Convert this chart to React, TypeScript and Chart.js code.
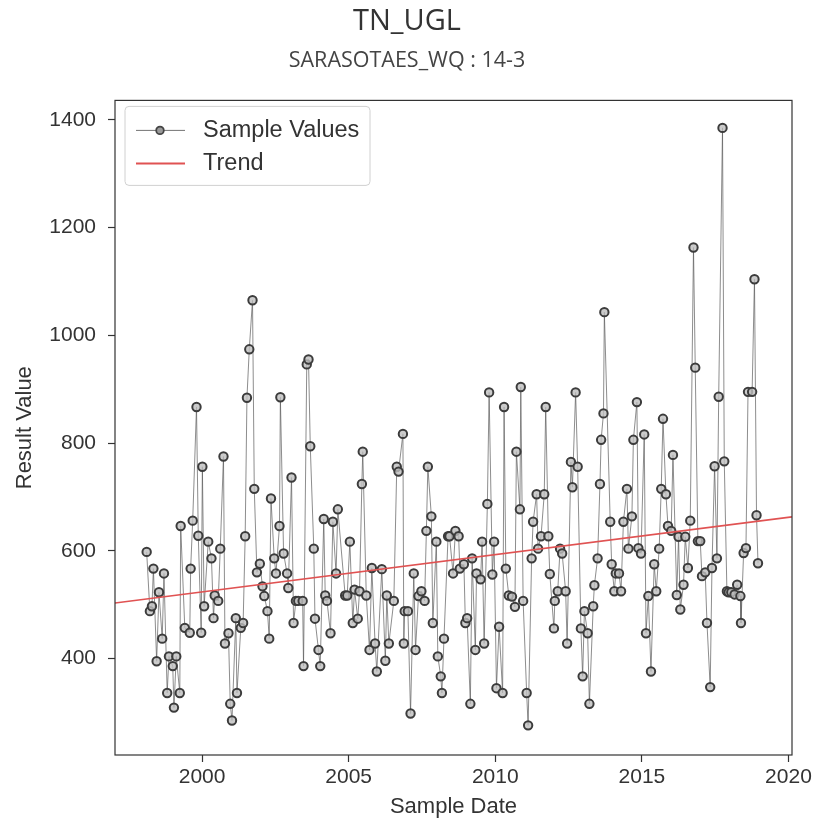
import React, { useEffect, useRef } from "react";
import { Chart, registerables } from "chart.js";
Chart.register(...registerables);

const sampleYears = [
  1998.11, 1998.22, 1998.29, 1998.34, 1998.45, 1998.53, 1998.64, 1998.70, 1998.81, 1998.87,
  1999.00, 1999.04, 1999.12, 1999.24, 1999.27, 1999.41, 1999.58, 1999.61, 1999.68, 1999.81,
  1999.87, 1999.97, 2000.01, 2000.07, 2000.21, 2000.32, 2000.39, 2000.43, 2000.55, 2000.62,
  2000.73, 2000.78, 2000.90, 2000.96, 2001.02, 2001.15, 2001.19, 2001.32, 2001.40, 2001.47,
  2001.53, 2001.61, 2001.72, 2001.78, 2001.87, 2001.97, 2002.06, 2002.12, 2002.23, 2002.29,
  2002.35, 2002.46, 2002.52, 2002.64, 2002.67, 2002.78, 2002.90, 2002.94, 2003.05, 2003.12,
  2003.20, 2003.28, 2003.43, 2003.46, 2003.57, 2003.63, 2003.69, 2003.81, 2003.85, 2003.97,
  2004.03, 2004.15, 2004.20, 2004.26, 2004.38, 2004.46, 2004.57, 2004.63, 2004.88, 2004.95,
  2005.04, 2005.14, 2005.20, 2005.31, 2005.37, 2005.45, 2005.48, 2005.60, 2005.71, 2005.79,
  2005.90, 2005.96, 2006.13, 2006.25, 2006.30, 2006.37, 2006.54, 2006.64, 2006.70, 2006.85,
  2006.88, 2006.91, 2007.02, 2007.11, 2007.22, 2007.28, 2007.38, 2007.48, 2007.59, 2007.65,
  2007.70, 2007.82, 2007.87, 2007.99, 2008.04, 2008.14, 2008.18, 2008.25, 2008.39, 2008.44,
  2008.56, 2008.64, 2008.75, 2008.79, 2008.93, 2008.98, 2009.04, 2009.15, 2009.21, 2009.32,
  2009.36, 2009.50, 2009.55, 2009.62, 2009.73, 2009.79, 2009.90, 2009.96, 2010.04, 2010.13,
  2010.25, 2010.30, 2010.36, 2010.46, 2010.57, 2010.67, 2010.72, 2010.84, 2010.87, 2010.95,
  2011.07, 2011.12, 2011.24, 2011.29, 2011.41, 2011.46, 2011.56, 2011.67, 2011.72, 2011.81,
  2011.86, 2012.00, 2012.03, 2012.13, 2012.21, 2012.28, 2012.40, 2012.45, 2012.58, 2012.63,
  2012.74, 2012.81, 2012.92, 2012.98, 2013.04, 2013.15, 2013.21, 2013.34, 2013.38, 2013.49,
  2013.57, 2013.61, 2013.69, 2013.72, 2013.92, 2013.97, 2014.06, 2014.11, 2014.22, 2014.29,
  2014.37, 2014.49, 2014.54, 2014.66, 2014.71, 2014.83, 2014.88, 2014.97, 2015.08, 2015.14,
  2015.22, 2015.31, 2015.42, 2015.49, 2015.59, 2015.66, 2015.72, 2015.82, 2015.89, 2016.00,
  2016.06, 2016.19, 2016.25, 2016.31, 2016.42, 2016.48, 2016.57, 2016.65, 2016.76, 2016.82,
  2016.91, 2016.99, 2017.05, 2017.16, 2017.22, 2017.33, 2017.39, 2017.48, 2017.56, 2017.62,
  2017.75, 2017.81, 2017.90, 2017.96, 2018.05, 2018.16, 2018.25, 2018.36, 2018.38, 2018.47,
  2018.55, 2018.62, 2018.76, 2018.84, 2018.91, 2018.96,
];

const sampleValues = [
  598, 488, 497, 567, 395, 523, 437, 558, 336, 404,
  386, 309, 404, 336, 646, 457, 448, 567, 656, 867,
  628, 448, 756, 497, 617, 586, 475, 517, 507, 604,
  775, 428, 447, 316, 285, 475, 336, 457, 466, 627,
  884, 974, 1065, 715, 560, 576, 534, 516, 488, 437,
  697, 586, 558, 646, 885, 595, 558, 531, 736, 466,
  507, 507, 507, 386, 946, 955, 794, 604, 474, 416,
  386, 659, 517, 507, 447, 654, 558, 677, 517, 517,
  617, 466, 528, 474, 525, 724, 784, 517, 416, 568,
  428, 376, 566, 396, 517, 428, 507, 756, 747, 817,
  428, 488, 488, 298, 558, 416, 516, 525, 507, 637,
  756, 664, 466, 617, 404, 367, 336, 437, 627, 627,
  558, 637, 627, 567, 575, 466, 475, 316, 586, 416,
  558, 547, 617, 428, 687, 894, 556, 617, 345, 459,
  336, 867, 567, 517, 515, 496, 784, 677, 904, 507,
  336, 276, 586, 654, 705, 604, 627, 705, 867, 627,
  557, 456, 507, 525, 604, 595, 525, 428, 765, 718,
  894, 756, 456, 367, 488, 447, 316, 497, 536, 586,
  724, 806, 855, 1043, 654, 575, 525, 558, 558, 525,
  654, 715, 604, 664, 806, 876, 605, 595, 816, 447,
  516, 376, 575, 525, 604, 715, 845, 705, 646, 637,
  778, 518, 626, 491, 537, 626, 568, 656, 1163, 940,
  618, 618, 553, 560, 466, 347, 568, 757, 586, 886,
  1385, 766, 525, 523, 523, 519, 537, 516, 466, 596,
  605, 895, 895, 1104, 666, 577,
];

const trendYears = [1997.03, 2020.12];
const trendValues = [503, 663];

const xTicks = [2000, 2005, 2010, 2015, 2020];
const yTicks = [400, 600, 800, 1000, 1200, 1400];

const TEXT = "#333333";
const SANS = "'Liberation Sans', Arial, sans-serif";

const frame = {
  id: "frame",
  afterDatasetsDraw(chart: any) {
    const { ctx, chartArea } = chart;
    const { left, top, right, bottom } = chartArea;
    ctx.save();
    ctx.strokeStyle = "#333333";
    ctx.lineWidth = 1.2;
    ctx.strokeRect(left, top, right - left, bottom - top);

    // legend
    const x0 = left + 10;
    const y0 = top + 6;
    const w = 245;
    const h = 79;
    const r = 4;
    ctx.beginPath();
    ctx.moveTo(x0 + r, y0);
    ctx.lineTo(x0 + w - r, y0);
    ctx.quadraticCurveTo(x0 + w, y0, x0 + w, y0 + r);
    ctx.lineTo(x0 + w, y0 + h - r);
    ctx.quadraticCurveTo(x0 + w, y0 + h, x0 + w - r, y0 + h);
    ctx.lineTo(x0 + r, y0 + h);
    ctx.quadraticCurveTo(x0, y0 + h, x0, y0 + h - r);
    ctx.lineTo(x0, y0 + r);
    ctx.quadraticCurveTo(x0, y0, x0 + r, y0);
    ctx.closePath();
    ctx.fillStyle = "rgba(255,255,255,0.85)";
    ctx.fill();
    ctx.strokeStyle = "#d0d0d0";
    ctx.lineWidth = 1;
    ctx.stroke();

    const ly1 = y0 + 24;
    const ly2 = y0 + 57;
    ctx.strokeStyle = "rgba(80,80,80,0.8)";
    ctx.lineWidth = 1;
    ctx.beginPath();
    ctx.moveTo(x0 + 11, ly1);
    ctx.lineTo(x0 + 60, ly1);
    ctx.stroke();
    ctx.beginPath();
    ctx.arc(x0 + 35, ly1, 3.8, 0, Math.PI * 2);
    ctx.fillStyle = "#9a9a9a";
    ctx.fill();
    ctx.strokeStyle = "#444444";
    ctx.lineWidth = 1.8;
    ctx.stroke();

    ctx.strokeStyle = "#e05252";
    ctx.lineWidth = 2;
    ctx.beginPath();
    ctx.moveTo(x0 + 11, ly2);
    ctx.lineTo(x0 + 60, ly2);
    ctx.stroke();

    ctx.fillStyle = TEXT;
    ctx.font = "23.5px " + SANS;
    ctx.textBaseline = "middle";
    ctx.textAlign = "left";
    ctx.fillText("Sample Values", x0 + 78, ly1);
    ctx.fillText("Trend", x0 + 78, ly2);
    ctx.restore();
  },
};

export default function App() {
  const ref = useRef<HTMLCanvasElement>(null);
  useEffect(() => {
    if (!ref.current) return;
    const chart = new Chart(ref.current, {
      type: "line",
      data: {
        datasets: [
          {
            label: "Sample Values",
            data: sampleYears.map((x, i) => ({ x, y: sampleValues[i] })),
            borderColor: "rgba(85,85,85,0.75)",
            borderWidth: 0.9,
            pointRadius: 4.2,
            pointBorderWidth: 2,
            pointBorderColor: "#3c3c3c",
            pointBackgroundColor: "rgba(190,190,190,0.8)",
            tension: 0,
            order: 1,
          },
          {
            label: "Trend",
            data: trendYears.map((x, i) => ({ x, y: trendValues[i] })),
            borderColor: "#e05252",
            borderWidth: 1.6,
            pointRadius: 0,
            tension: 0,
            order: 0,
          },
        ],
      },
      options: {
        animation: false,
        responsive: false,
        devicePixelRatio: 1,
        layout: { padding: { left: 0, right: 0, top: 0, bottom: 0 } },
        plugins: {
          legend: { display: false },
          tooltip: { enabled: false },
          title: {
            display: true,
            text: "TN_UGL",
            color: "#333333",
            font: { family: "'Open Sans', sans-serif", size: 29, weight: "normal" },
            padding: { top: 4.2, bottom: 2 },
          },
          subtitle: {
            display: true,
            text: "SARASOTAES_WQ : 14-3",
            color: "#444444",
            font: { family: "'Open Sans', sans-serif", size: 21.5, weight: "normal" },
            padding: { top: 6.5, bottom: 27.1 },
          },
        },
        scales: {
          x: {
            type: "linear",
            min: 1997.03,
            max: 2020.12,
            afterBuildTicks: (s: any) => {
              s.ticks = xTicks.map((v) => ({ value: v }));
            },
            afterFit: (s: any) => {
              s.height = 69;
              s.paddingRight = 22;
              s.paddingLeft = 0;
            },
            border: { display: false },
            grid: { drawOnChartArea: false, color: "#333333", tickLength: 7, tickWidth: 1.2 },
            ticks: {
              color: TEXT,
              font: { family: SANS, size: 21 },
              padding: 3,
              maxRotation: 0,
              callback: (v: any) => String(v),
            },
            title: {
              display: true,
              text: "Sample Date",
              color: TEXT,
              font: { family: SANS, size: 22 },
              padding: { top: 0, bottom: 3.5 },
            },
          },
          y: {
            type: "linear",
            min: 221,
            max: 1436,
            afterBuildTicks: (s: any) => {
              s.ticks = yTicks.map((v) => ({ value: v }));
            },
            afterFit: (s: any) => {
              s.width = 115;
            },
            border: { display: false },
            grid: { drawOnChartArea: false, color: "#333333", tickLength: 7, tickWidth: 1.2 },
            ticks: {
              color: TEXT,
              font: { family: SANS, size: 21 },
              padding: 12,
              callback: (v: any) => String(v),
            },
            title: {
              display: true,
              text: "Result Value",
              color: TEXT,
              font: { family: SANS, size: 22 },
              padding: { top: 11.5, bottom: 0 },
            },
          },
        },
      },
      plugins: [frame],
    });
    return () => chart.destroy();
  }, []);
  return (
    <div style={{ position: "absolute", left: 0, top: 0, width: 814, height: 824, background: "#fff" }}>
      <canvas ref={ref} width={814} height={824} style={{ display: "block" }} />
    </div>
  );
}
